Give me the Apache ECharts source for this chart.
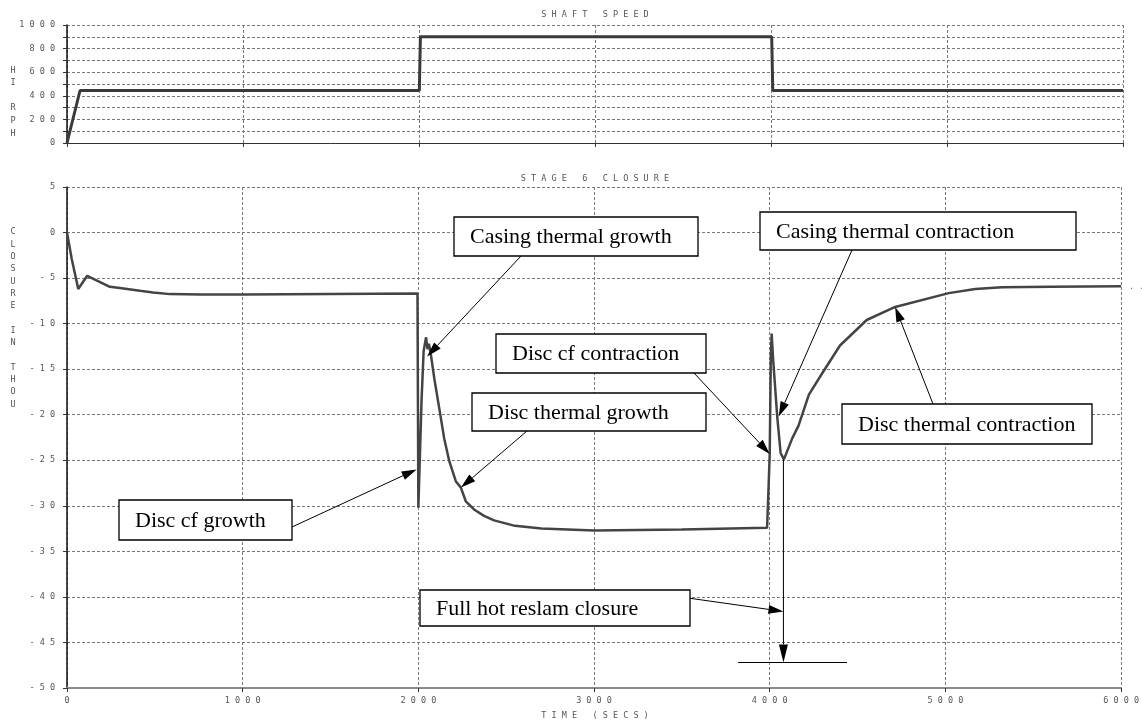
<!DOCTYPE html>
<html>
<head>
<meta charset="utf-8">
<script src="https://cdn.jsdelivr.net/npm/echarts@6/dist/echarts.min.js"></script>
<style>
  html, body { margin: 0; padding: 0; background: #fff; }
  #chart { width: 1142px; height: 726px; }
</style>
</head>
<body>
<div id="chart"></div>
<script>
// Shaft speed history (HI RPH against time in seconds)
const speedTime = [0, 74, 2002, 2008, 4004, 4010, 6000];
const speedValue = [0, 445, 445, 900, 900, 445, 445];

// Stage 6 closure history (thou against time in seconds)
const closureTime = [0, 27, 64, 115, 244, 301, 415, 490, 585, 760, 1000, 1500, 1995,
  2000, 2006, 2018, 2030, 2044, 2052, 2060, 2072, 2091, 2119, 2147, 2176, 2213, 2242,
  2270, 2317, 2374, 2431, 2550, 2700, 3000, 3500, 3985, 3992, 4000, 4006, 4011, 4019,
  4043, 4062, 4081, 4128, 4164, 4223, 4297, 4400, 4552, 4714, 5019, 5170, 5322, 5600, 6000];
const closureValue = [0, -2.9, -6.2, -4.75, -5.96, -6.1, -6.4, -6.58, -6.76, -6.8, -6.8, -6.75, -6.7,
  -30.2, -30.2, -18.5, -13, -11.5, -12.8, -12.2, -13.5, -16.05, -19.3, -22.6, -25.1, -27.3, -28.0,
  -29.5, -30.4, -31.1, -31.6, -32.2, -32.5, -32.7, -32.6, -32.4, -28.7, -24.3, -13.9, -11.1, -13.8,
  -20.3, -24.2, -24.9, -22.6, -21.2, -17.8, -15.5, -12.4, -9.6, -8.17, -6.65, -6.2, -6.0, -5.95, -5.9];

// Full hot reslam closure marker
const reslamTime = 4078;
const reslamFrom = -24.9;
const reslamValue = -47.2;
const reslamBar = [3820, 4440];

// Axis ranges / tick steps
const timeTicks = [0, 1000, 2000, 3000, 4000, 5000, 6000];
const speedTicks = [0, 200, 400, 600, 800, 1000];
const closureTicks = [5, 0, -5, -10, -15, -20, -25, -30, -35, -40, -45, -50];

// Callout texts and where their arrows land (time, closure)
const calloutText = ['Casing thermal growth', 'Casing thermal contraction', 'Disc cf contraction',
  'Disc thermal growth', 'Disc thermal contraction', 'Disc cf growth', 'Full hot reslam closure'];
const calloutTarget = [[2050, -13.6], [4051, -20.2], [4000, -24.3], [2242, -28.0],
  [4714, -8.17], [1990, -26.0], [4078, -41.6]];

// Callout box layout in pixels: [x, y, w, h] and arrow tail point
const calloutLayout = [
  { box: [454, 217, 244, 39], tail: [521, 256] },
  { box: [760, 212, 316, 38], tail: [852, 250] },
  { box: [496, 334, 210, 39], tail: [694, 373] },
  { box: [472, 393, 234, 38], tail: [527, 431] },
  { box: [842, 404, 250, 40], tail: [933, 404] },
  { box: [119, 500, 173, 40], tail: [292, 527] },
  { box: [420, 590, 270, 36], tail: [688, 598] }
];

const spaced = s => String(s).split('').join(' ');
const monoFont = '"DejaVu Sans Mono", monospace';
const tickFont = { fontFamily: monoFont, fontSize: 8.5, color: '#555' };
const gridLine = { show: true, lineStyle: { color: '#7a7a7a', type: [3, 2], width: 1 } };

const step = a => a[1] - a[0];
const tMin = Math.min(...timeTicks), tMax = Math.max(...timeTicks);

const chart = echarts.init(document.getElementById('chart'), null, { renderer: 'canvas' });

chart.setOption({
  animation: false,
  backgroundColor: '#fff',
  grid: [
    { left: 67, right: 19, top: 25, height: 118 },
    { left: 67, right: 19, top: 187, height: 501 }
  ],
  xAxis: [
    {
      gridIndex: 0, type: 'value', min: tMin, max: tMax, interval: step(timeTicks),
      axisLine: { onZero: false, lineStyle: { color: '#333', width: 1 } },
      axisTick: { show: true, length: 4, lineStyle: { color: '#333' } },
      axisLabel: { show: false },
      splitLine: gridLine
    },
    {
      gridIndex: 1, type: 'value', min: tMin, max: tMax, interval: step(timeTicks),
      axisLine: { onZero: false, lineStyle: { color: '#8a8a8a', width: 2 } },
      axisTick: { show: true, length: 4, lineStyle: { color: '#333' } },
      axisLabel: { ...tickFont, margin: 8, formatter: v => spaced(v) },
      splitLine: gridLine
    }
  ],
  yAxis: [
    {
      gridIndex: 0, type: 'value', min: Math.min(...speedTicks), max: Math.max(...speedTicks), interval: step(speedTicks) / 2,
      axisLine: { show: true, onZero: false, lineStyle: { color: '#111', width: 1.5 } },
      axisTick: { show: true, length: 4, lineStyle: { color: '#333' } },
      axisLabel: { ...tickFont, margin: 12, formatter: v => (v % step(speedTicks) === 0 ? spaced(v) : '') },
      splitLine: gridLine
    },
    {
      gridIndex: 1, type: 'value', min: Math.min(...closureTicks), max: Math.max(...closureTicks), interval: closureTicks[0] - closureTicks[1],
      axisLine: { show: true, onZero: false, lineStyle: { color: '#111', width: 1.5 } },
      axisTick: { show: true, length: 4, lineStyle: { color: '#333' } },
      axisLabel: { ...tickFont, margin: 12, formatter: v => spaced(v) },
      splitLine: gridLine
    }
  ],
  series: [
    {
      type: 'line', xAxisIndex: 0, yAxisIndex: 0, showSymbol: false,
      data: speedTime.map((t, i) => [t, speedValue[i]]),
      lineStyle: { color: '#3a3a3a', width: 3 }, z: 5
    },
    {
      type: 'line', xAxisIndex: 1, yAxisIndex: 1, showSymbol: false,
      data: closureTime.map((t, i) => [t, closureValue[i]]),
      lineStyle: { color: '#444', width: 2.5 }, z: 5
    }
  ]
});

// Arrow: thin shaft plus a narrow filled head
function arrow(p0, p1, head = 15, half = 4.5) {
  const dx = p1[0] - p0[0], dy = p1[1] - p0[1];
  const L = Math.hypot(dx, dy), ux = dx / L, uy = dy / L;
  const bx = p1[0] - ux * head, by = p1[1] - uy * head;
  return [
    { type: 'line', z: 100, shape: { x1: p0[0], y1: p0[1], x2: bx, y2: by }, style: { stroke: '#000', lineWidth: 1 } },
    { type: 'polygon', z: 100, shape: { points: [[p1[0], p1[1]], [bx - uy * half, by + ux * half], [bx + uy * half, by - ux * half]] }, style: { fill: '#000' } }
  ];
}

function label(x, y, text, font, fill, align, vAlign, lineHeight) {
  const style = { text, font, fill, align, textAlign: align, verticalAlign: vAlign, textVerticalAlign: vAlign };
  if (lineHeight) style.lineHeight = lineHeight;
  return { type: 'text', x, y, z: 101, style };
}

const toPx = p => chart.convertToPixel({ gridIndex: 1 }, p);
const elements = [];

// Titles and axis names
const capsFont = '8.5px ' + monoFont;
elements.push(label(595, 15, spaced('SHAFT SPEED'), capsFont, '#555', 'center', 'middle'));
elements.push(label(595, 179, spaced('STAGE 6 CLOSURE'), capsFont, '#555', 'center', 'middle'));
elements.push(label(595, 716, spaced('TIME (SECS)'), capsFont, '#555', 'center', 'middle'));
elements.push(label(13, 64, 'HI RPH'.split('').join('\n'), capsFont, '#555', 'center', 'top', 12.6));
elements.push(label(13, 226, 'CLOSURE IN THOU'.split('').join('\n'), capsFont, '#555', 'center', 'top', 12.3));
elements.push(label(1129, 287, '. .', capsFont, '#666', 'left', 'middle'));

// Reslam marker: drop arrow from the curve and the bar at the final closure
const rTop = toPx([reslamTime, reslamFrom]);
const rBot = toPx([reslamTime, reslamValue]);
elements.push(...arrow(rTop, rBot, 18, 4.5));
const barL = toPx([reslamBar[0], reslamValue]);
const barR = toPx([reslamBar[1], reslamValue]);
elements.push({ type: 'line', z: 100, shape: { x1: barL[0], y1: barL[1], x2: barR[0], y2: barR[1] }, style: { stroke: '#000', lineWidth: 1.2 } });

// Callouts
calloutText.forEach((txt, i) => {
  const L = calloutLayout[i];
  const [x, y, w, h] = L.box;
  elements.push(...arrow(L.tail, toPx(calloutTarget[i])));
  elements.push({ type: 'rect', z: 102, shape: { x: x, y: y, width: w, height: h },
    style: { fill: '#fff', stroke: '#000', lineWidth: 1.3 } });
  elements.push({ type: 'text', z: 103, x: x + 16, y: y + h / 2 + 1,
    style: { text: txt, font: '22px "Liberation Serif", "Times New Roman", serif', fill: '#000',
      align: 'left', textAlign: 'left', verticalAlign: 'middle', textVerticalAlign: 'middle' } });
});

chart.setOption({ graphic: { elements } });
</script>
</body>
</html>
